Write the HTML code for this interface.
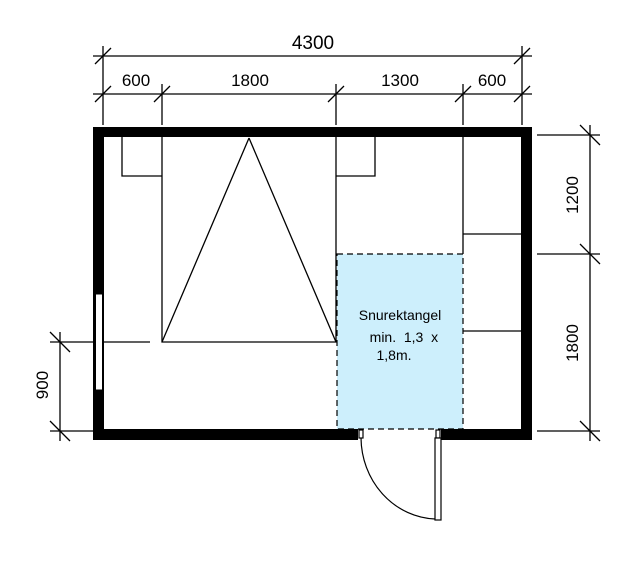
<!DOCTYPE html>
<html><head><style>body{margin:0;background:#fff}svg{display:block}</style></head><body>
<svg width="642" height="567" viewBox="0 0 642 567" xmlns="http://www.w3.org/2000/svg" font-family="Liberation Sans, sans-serif">
<g stroke="#000" stroke-width="1.3" fill="none">
<!-- top dims -->
<line x1="93" y1="56" x2="532" y2="56"/>
<line x1="93" y1="94" x2="532" y2="94"/>
<line x1="103" y1="46" x2="103" y2="125"/>
<line x1="522" y1="46" x2="522" y2="125"/>
<line x1="162" y1="84" x2="162" y2="125"/>
<line x1="336" y1="84" x2="336" y2="125"/>
<line x1="463" y1="84" x2="463" y2="125"/>
<path d="M95 64 L111 48 M95 102 L111 86 M154 102 L170 86 M328 102 L344 86 M455 102 L471 86 M514 64 L530 48 M514 102 L530 86"/>
<!-- right dims -->
<line x1="537" y1="135" x2="600" y2="135"/>
<line x1="537" y1="254" x2="600" y2="254"/>
<line x1="537" y1="431" x2="600" y2="431"/>
<line x1="590" y1="125" x2="590" y2="441"/>
<path d="M580 125 L600 145 M580 244 L600 264 M580 421 L600 441"/>
<!-- left dim -->
<line x1="50" y1="342" x2="150" y2="342"/>
<line x1="50" y1="431" x2="93" y2="431"/>
<line x1="60" y1="332" x2="60" y2="441"/>
<path d="M50 332 L70 352 M50 421 L70 441"/>
</g>
<!-- blue rectangle -->
<rect x="337" y="254" width="126" height="175" fill="#cdeffc" stroke="#000" stroke-width="1.2" stroke-dasharray="6,4"/>
<g stroke="#000" stroke-width="1.3" fill="none">
<path d="M162 137 V342 H336 V254 M336 137 V254"/>
<path d="M249 138 L162 342 M249 138 L336 342"/>
<path d="M122 137 V176 H162 M336 176 H375 V137"/>
<path d="M463 137 V254 M463 234 H521 M463 331 H521"/>
</g>
<!-- walls -->
<path d="M93 127 H532 V440 H441 V429 H521 V137 H104 V429 H358 V440 H93 Z" fill="#000"/>
<rect x="95.5" y="294" width="7" height="96" fill="#fff" stroke="#000" stroke-width="1"/>
<!-- door -->
<g stroke="#000" stroke-width="1.2" fill="none">
<rect x="359" y="430" width="4" height="8" fill="#fff"/>
<rect x="436" y="430" width="4" height="8" fill="#fff"/>
<rect x="435" y="438" width="6" height="82" fill="#fff"/>
<path d="M361 438 A77 82 0 0 0 435 519"/>
</g>
<g font-size="17" fill="#000">
<text x="313" y="49" text-anchor="middle" font-size="19">4300</text>
<text x="136" y="86" text-anchor="middle">600</text>
<text x="250" y="86" text-anchor="middle">1800</text>
<text x="400" y="86" text-anchor="middle">1300</text>
<text x="492" y="86" text-anchor="middle">600</text>
<text transform="translate(578,195) rotate(-90)" text-anchor="middle">1200</text>
<text transform="translate(578,343) rotate(-90)" text-anchor="middle">1800</text>
<text transform="translate(48,385) rotate(-90)" text-anchor="middle">900</text>
</g>
<g font-size="14" fill="#000">
<text x="400" y="320" text-anchor="middle">Snurektangel</text>
<text x="400" y="342" text-anchor="middle" xml:space="preserve">  min.  1,3  x</text>
<text x="394" y="360" text-anchor="middle">1,8m.</text>
</g>
</svg>
</body></html>
